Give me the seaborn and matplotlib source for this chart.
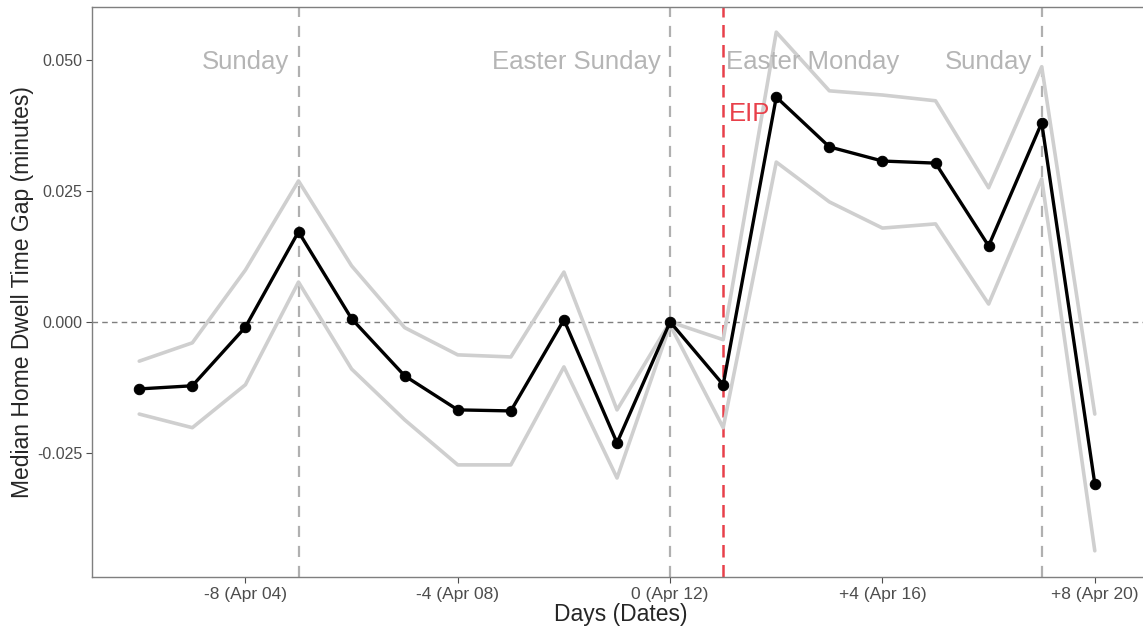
import numpy as np
import pandas as pd
import seaborn as sns
import matplotlib.pyplot as plt
from matplotlib import font_manager

# days relative to Easter Sunday (Apr 12)
days = list(range(-10, 9))
median_gap = [-0.0128, -0.0122, -0.0010, 0.0172, 0.0006, -0.0103, -0.0168, -0.0170,
              0.0004, -0.0231, 0.0000, -0.0120, 0.0429, 0.0334, 0.0307, 0.0303,
              0.0145, 0.0380, -0.0309]
upper_ci = [-0.0075, -0.0040, 0.0099, 0.0269, 0.0107, -0.0011, -0.0063, -0.0067,
            0.0095, -0.0168, 0.0000, -0.0034, 0.0553, 0.0441, 0.0433, 0.0422,
            0.0256, 0.0487, -0.0176]
lower_ci = [-0.0176, -0.0202, -0.0120, 0.0076, -0.0090, -0.0187, -0.0273, -0.0273,
            -0.0086, -0.0298, -0.0006, -0.0202, 0.0305, 0.0229, 0.0179, 0.0187,
            0.0034, 0.0273, -0.0437]

tick_days = [-8, -4, 0, 4, 8]
tick_labels = ['-8 (Apr 04)', '-4 (Apr 08)', '0 (Apr 12)', '+4 (Apr 16)', '+8 (Apr 20)']
sunday_days = [-7, 0, 7]
eip_day = 1
events = [(-7, 'Sunday', 'right'), (0, 'Easter Sunday', 'right'),
          (1, 'Easter Monday', 'left'), (7, 'Sunday', 'right')]

df = pd.DataFrame({'day': days, 'gap': median_gap, 'upper': upper_ci, 'lower': lower_ci})

sns.set_theme(style='white')
installed = {f.name for f in font_manager.fontManager.ttflist}
narrow = 'Liberation Sans Narrow' if 'Liberation Sans Narrow' in installed else 'Liberation Sans'
plt.rcParams['font.family'] = ['Liberation Sans', 'DejaVu Sans']

fig = plt.figure(figsize=(11.43, 6.3), dpi=100)
ax = fig.add_axes([92 / 1143, 53 / 630, 1058 / 1143, 570 / 630])

ax.axhline(0, color='#7f7f7f', linestyle=(0, (4, 3)), linewidth=1.0, zorder=1)
for d in sunday_days:
    ax.axvline(d, color='#b0b0b0', linestyle=(0, (5, 4)), linewidth=1.6, zorder=1)
ax.axvline(eip_day, color='#e8404a', linestyle=(0, (5, 3)), linewidth=1.8, zorder=1)

sns.lineplot(data=df, x='day', y='upper', color='#cfcfcf', linewidth=2.6, ax=ax, zorder=2)
sns.lineplot(data=df, x='day', y='lower', color='#cfcfcf', linewidth=2.6, ax=ax, zorder=2)
sns.lineplot(data=df, x='day', y='gap', color='black', linewidth=2.4, marker='o',
             markersize=7.5, markeredgecolor='black', ax=ax, zorder=3)

for d, label, ha in events:
    off = -0.18 if ha == 'right' else 0.06
    ax.text(d + off, 0.0496, label, ha=ha, va='center', fontsize=18.5, color='#b5b5b5', zorder=4)
ax.text(eip_day + 0.1, 0.0396, 'EIP', ha='left', va='center', fontsize=18.5, color='#e8404a', zorder=4)

ax.set_xlim(-10.89, 9.04)
ax.set_ylim(-0.0487, 0.0601)
ax.set_xticks(tick_days)
ax.set_xticklabels(tick_labels, family=narrow, fontsize=12.5, color='#4d4d4d')
ax.set_yticks([-0.025, 0.0, 0.025, 0.05])
ax.set_yticklabels(['-0.025', '0.000', '0.025', '0.050'], fontsize=11.5, color='#4d4d4d')
ax.tick_params(axis='both', length=4, width=0.8, color='#4d4d4d', pad=3, bottom=True, left=True)
ax.set_xlabel('Days (Dates)', family=narrow, fontsize=16.5, labelpad=1)
ax.set_ylabel('Median Home Dwell Time Gap (minutes)', fontsize=16.5, labelpad=2)
for s in ax.spines.values():
    s.set_color('#7f7f7f')
    s.set_linewidth(1.0)

fig.savefig('out.png', dpi=100)
